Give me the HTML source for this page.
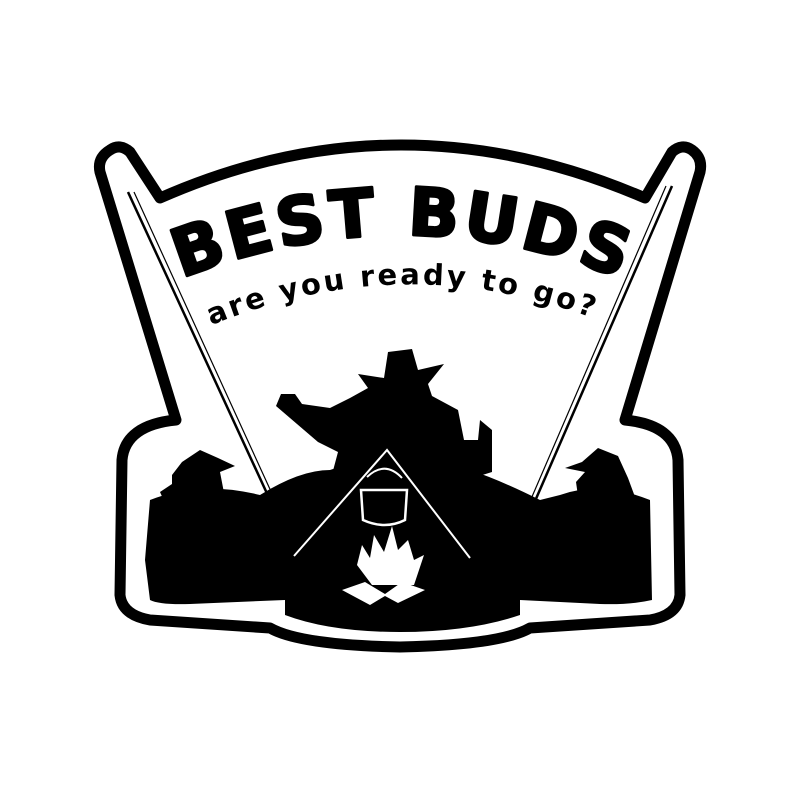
<!DOCTYPE html>
<html><head><style>html,body{margin:0;padding:0;background:#fff}svg{display:block}</style></head>
<body>
<svg width="800" height="800" viewBox="0 0 800 800" xmlns="http://www.w3.org/2000/svg">
<rect width="800" height="800" fill="#fff"/>
<path d="M110,150 Q120,143 130,152 L160,198 Q400,92 645,198 L672,152 Q682,143 692,150 Q703,158 700,172 L625,420 Q675,425 678,460 L680,595 Q678,615 650,620 L530,628 Q500,645 400,647 Q300,645 270,628 L150,620 Q122,615 120,595 L122,460 Q125,425 176,420 L100,172 Q97,158 110,150 Z" fill="#fff" stroke="#000" stroke-width="11" stroke-linejoin="round"/>
<g stroke="#000" fill="none">
<line x1="128" y1="192" x2="270" y2="500" stroke-width="2.5"/>
<line x1="134" y1="192" x2="274" y2="498" stroke-width="1.2"/>
<line x1="672" y1="186" x2="532" y2="508" stroke-width="2.5"/>
<line x1="666" y1="186" x2="528" y2="506" stroke-width="1.2"/>
</g>
<g fill="#000">
<path d="M150,500 Q200,480 260,495 Q300,470 330,470 L360,460 Q390,445 420,455 Q440,470 470,470 Q500,480 540,500 L560,495 Q600,480 650,500 L652,600 Q630,605 600,604 L520,600 L520,615 Q470,632 400,632 Q330,632 285,615 L285,600 L190,604 Q160,605 150,600 L145,560 Z"/>
<path d="M172,475 L182,462 L200,450 L218,458 L235,466 L220,472 L225,498 L218,510 L168,510 L160,492 L172,484 Z"/>
<path d="M565,468 L582,462 L598,448 L618,456 L628,478 L638,505 L580,510 L576,482 L585,472 Z"/>
<path d="M358,374 L384,378 L388,352 L412,349 L418,370 L444,364 L428,384 L432,396 L458,410 L464,440 L478,440 L480,420 L492,430 L492,472 L460,482 L330,482 L338,452 L318,442 L290,418 L276,406 L281,394 L295,394 L302,404 L330,408 L350,398 L368,388 Z"/>
</g>
<g stroke="#fff" fill="none" stroke-width="2">
<path d="M294,556 L387,450 L470,558"/>
<path d="M367,477 Q385,460 402,478"/>
<path d="M361,490 L363,520 Q385,530 405,520 L407,490 Z" stroke-width="2.5"/>
</g>
<path d="M372,585 L357,565 L362,545 L370,558 L374,535 L384,552 L392,526 L398,550 L408,540 L414,560 L424,555 L414,585 Z" fill="#fff"/>
<path d="M342,590 L365,582 L385,594 L402,582 L425,590 L398,603 L385,596 L370,605 Z" fill="#fff"/>
<defs>
<path id="a1" d="M172,282 Q400,188 630,282"/>
<path id="a2" d="M205,328 Q400,245 598,320"/>
</defs>
<text font-family="DejaVu Sans, Liberation Sans, sans-serif" font-weight="bold" font-size="66" fill="#000" stroke="#000" stroke-width="3" stroke-linejoin="round"><textPath href="#a1" startOffset="50%" text-anchor="middle" textLength="450" lengthAdjust="spacing">BEST BUDS</textPath></text>
<text font-family="DejaVu Sans, Liberation Sans, sans-serif" font-weight="bold" font-size="29" fill="#000"><textPath href="#a2" startOffset="50%" text-anchor="middle" textLength="390" lengthAdjust="spacing">are you ready to go?</textPath></text>
</svg>
</body></html>
